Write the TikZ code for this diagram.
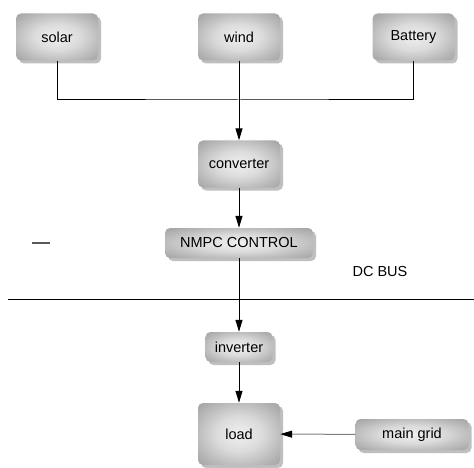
\documentclass[tikz,border=0pt]{standalone}
\usepackage{fontspec}
\setmainfont{Liberation Sans}
\usetikzlibrary{arrows.meta, positioning, shadows}

\colorlet{glowA}{gray!12}
\colorlet{glowB}{gray!28}
\colorlet{glowC}{gray!56}
\colorlet{glowD}{gray!72}
\pgfdeclareradialshading{boxglow}{\pgfpoint{0bp}{0bp}}{%
  color(0bp)=(glowA); color(14bp)=(glowB); color(27bp)=(glowC);
  color(35bp)=(glowD); color(50bp)=(glowD)}

\begin{document}
\begin{tikzpicture}[
  x=1pt, y=-1pt,
  box/.style = {
    rectangle, rounded corners=5pt, draw=none,
    shading=boxglow,
    drop shadow={shadow xshift=3pt, shadow yshift=-3pt,
                 fill=gray!50, opacity=1},
    minimum width=82pt, minimum height=47pt, inner sep=0pt,
    font=\fontsize{14.5}{17}\selectfont
  },
  wire/.style = {
    line width=1pt
  },
  arrow/.style = {
    wire, -{Triangle[length=12pt, width=7pt]}
  },
  label/.style = {
    font=\fontsize{14.5}{17}\selectfont
  }
]
\useasboundingbox (0,0) rectangle (474,468);

% ====== SOURCES (top row) ======
\node[box] (wind) at (239,37) {wind};
\node[box] (solar) at (57,37) {solar};
\node[box] (bat) at (413.5,37) {Battery};

% ====== CONVERSION / CONTROL ======
\node[box] (conv) at (239,164) {converter};
\node[box, minimum width=148pt, minimum height=30pt] (nmpc) at (239,243) {NMPC CONTROL};

% ====== DC BUS ======
\node[label] (dcbus) at (380,272) {DC BUS};
\coordinate (busL) at (8,299);
\coordinate (busR) at (474,299);
\coordinate (dashL) at (32,243);
\coordinate (dashR) at (50,243);

% ====== LOAD SIDE ======
\node[box, minimum width=67pt, minimum height=30pt] (inv) at (239,347) {inverter};
\node[box, minimum height=62pt] (load) at (239,434) {load};
\node[box, minimum width=113pt, minimum height=31pt] (grid) at (412,434.5) {main grid};

% ====== ARROWS ======
\coordinate (join) at (239,100);
\draw[wire] (solar.south) |- (join) -| (bat.south);
\draw[arrow] (wind.south) -- (conv.north);
\draw[arrow] (conv) -- (nmpc);
\draw[arrow] (nmpc) -- (inv);
\draw[arrow] (inv) -- (load);
\draw[arrow, draw=gray, -{Triangle[length=12pt, width=7pt, color=black]}] (grid) -- (load);

\draw[wire] (busL) -- (busR);
\draw[line width=1.5pt, gray!70!black] (dashL) -- (dashR);

\end{tikzpicture}
\end{document}
